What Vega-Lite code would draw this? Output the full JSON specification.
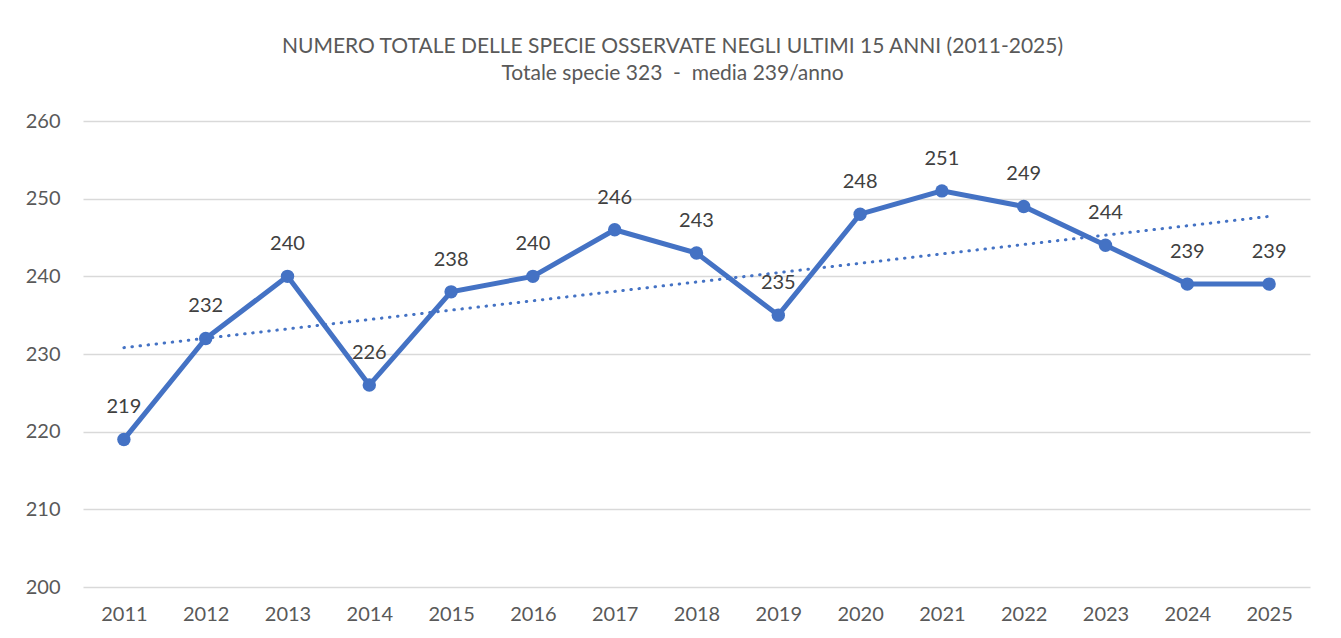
{
  "$schema": "https://vega.github.io/schema/vega-lite/v6.json",
  "autosize": "none",
  "width": 1227,
  "height": 466,
  "padding": {"left": 83, "top": 121, "right": 31, "bottom": 51},
  "background": "white",
  "config": {
    "view": {"stroke": null},
    "font": "Lato"
  },
  "title": {
    "text": "NUMERO TOTALE DELLE SPECIE OSSERVATE NEGLI ULTIMI 15 ANNI (2011-2025)",
    "subtitle": "Totale specie 323 \u00a0-\u00a0 media 239/anno",
    "anchor": "middle",
    "dx": -24,
    "offset": 27,
    "font": "Lato",
    "fontSize": 21,
    "fontWeight": "normal",
    "color": "#595959",
    "subtitleFont": "Lato",
    "subtitleFontSize": 21,
    "subtitleColor": "#595959",
    "subtitlePadding": 6
  },
  "data": {
    "values": [
      {"year": 2011, "species": 219},
      {"year": 2012, "species": 232},
      {"year": 2013, "species": 240},
      {"year": 2014, "species": 226},
      {"year": 2015, "species": 238},
      {"year": 2016, "species": 240},
      {"year": 2017, "species": 246},
      {"year": 2018, "species": 243},
      {"year": 2019, "species": 235},
      {"year": 2020, "species": 248},
      {"year": 2021, "species": 251},
      {"year": 2022, "species": 249},
      {"year": 2023, "species": 244},
      {"year": 2024, "species": 239},
      {"year": 2025, "species": 239}
    ]
  },
  "encoding": {
    "x": {
      "field": "year",
      "type": "ordinal",
      "scale": {"paddingInner": 0, "paddingOuter": 0.5},
      "axis": {
        "title": null,
        "labelAngle": 0,
        "labelFont": "Lato",
        "labelFontSize": 20,
        "labelColor": "#595959",
        "labelPadding": 17,
        "ticks": false,
        "domain": false,
        "grid": false
      }
    },
    "y": {
      "field": "species",
      "type": "quantitative",
      "scale": {"domain": [200, 260], "nice": false, "zero": false},
      "axis": {
        "title": null,
        "values": [200, 210, 220, 230, 240, 250, 260],
        "labelFont": "Lato",
        "labelFontSize": 20,
        "labelColor": "#595959",
        "labelPadding": 23,
        "ticks": false,
        "domain": false,
        "grid": true,
        "gridColor": "#d9d9d9",
        "gridWidth": 1.3
      }
    }
  },
  "layer": [
    {
      "mark": {"type": "line", "color": "#4472C4", "strokeWidth": 5}
    },
    {
      "mark": {"type": "point", "filled": true, "color": "#4472C4", "size": 180, "opacity": 1}
    },
    {
      "transform": [{"regression": "species", "on": "year", "method": "linear"}],
      "mark": {"type": "line", "color": "#4472C4", "strokeWidth": 3, "strokeDash": [0.5, 7.6], "strokeCap": "round"}
    },
    {
      "mark": {"type": "text", "dy": -32, "baseline": "middle", "font": "Lato", "fontSize": 20, "color": "#404040"},
      "encoding": {"text": {"field": "species", "type": "quantitative"}}
    }
  ]
}
